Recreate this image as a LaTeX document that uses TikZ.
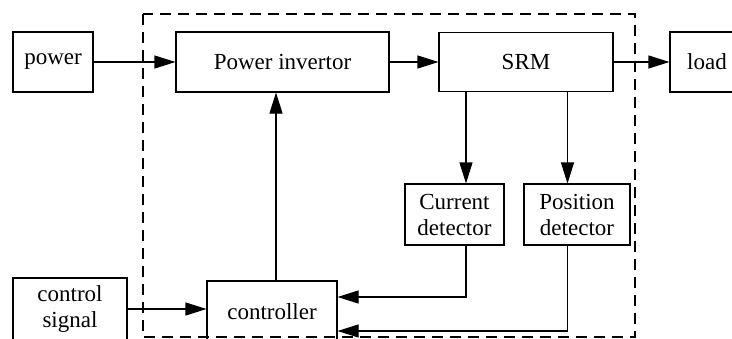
\documentclass[tikz,border=0pt]{standalone}
\usepackage{fontspec}
\setmainfont{Liberation Serif}
\usetikzlibrary{arrows.meta}
\begin{document}
\begin{tikzpicture}[x=1pt,y=-1pt,
  blk/.style={draw,line width=1.1pt,minimum width=#1,inner sep=0pt,align=center,font=\fontsize{23}{26}\selectfont},
  conn/.style={line width=1.1pt,-{Triangle[length=21pt,width=13pt]}},
  bound/.style={line width=1.2pt,dash pattern=on 11pt off 7pt}]
\clip (0,0) rectangle (732,338);
\fill[white] (0,0) rectangle (732,338);
\node[blk=80pt,minimum height=60pt] (power) at (53,62) {power};
\node[blk=213pt,minimum height=60pt] (inv) at (282.5,62) {Power invertor};
\node[blk=174pt,minimum height=59pt] (srm) at (526,62) {SRM};
\node[blk=74pt,minimum height=60pt] (load) at (707,62) {load};
\node[blk=99pt,minimum height=61pt] (cur) at (454.5,214.5) {Current\\detector};
\node[blk=106pt,minimum height=61pt] (pos) at (577,214.5) {Position\\detector};
\node[blk=114pt,minimum height=62pt] (cs) at (70,309) {control\\signal};
\node[blk=130pt,minimum height=62pt] (ctrl) at (272,312) {controller};
\coordinate (d1) at (143,14);
\coordinate (d2) at (635,337);
\draw[bound] (d1) rectangle (d2);
\coordinate (xa) at (466,0);
\coordinate (xb) at (567.5,0);
\coordinate (xc) at (276,0);
\coordinate (ya) at (0,297);
\coordinate (yb) at (0,331);
\draw[conn] (power) -- (inv);
\draw[conn] (inv) -- (srm);
\draw[conn] (srm) -- (load);
\draw[conn] (srm.south -| xa) -- (cur.north -| xa);
\draw[conn] (srm.south -| xb) -- (pos.north -| xb);
\draw[conn] (cur.south -| xa) -- (xa |- ya) -- (ctrl.east |- ya);
\draw[conn] (pos.south -| xb) -- (xb |- yb) -- (ctrl.east |- yb);
\draw[conn] (ctrl.north -| xc) -- (inv.south -| xc);
\draw[conn] (cs) -- (cs -| ctrl.west);
\end{tikzpicture}
\end{document}
